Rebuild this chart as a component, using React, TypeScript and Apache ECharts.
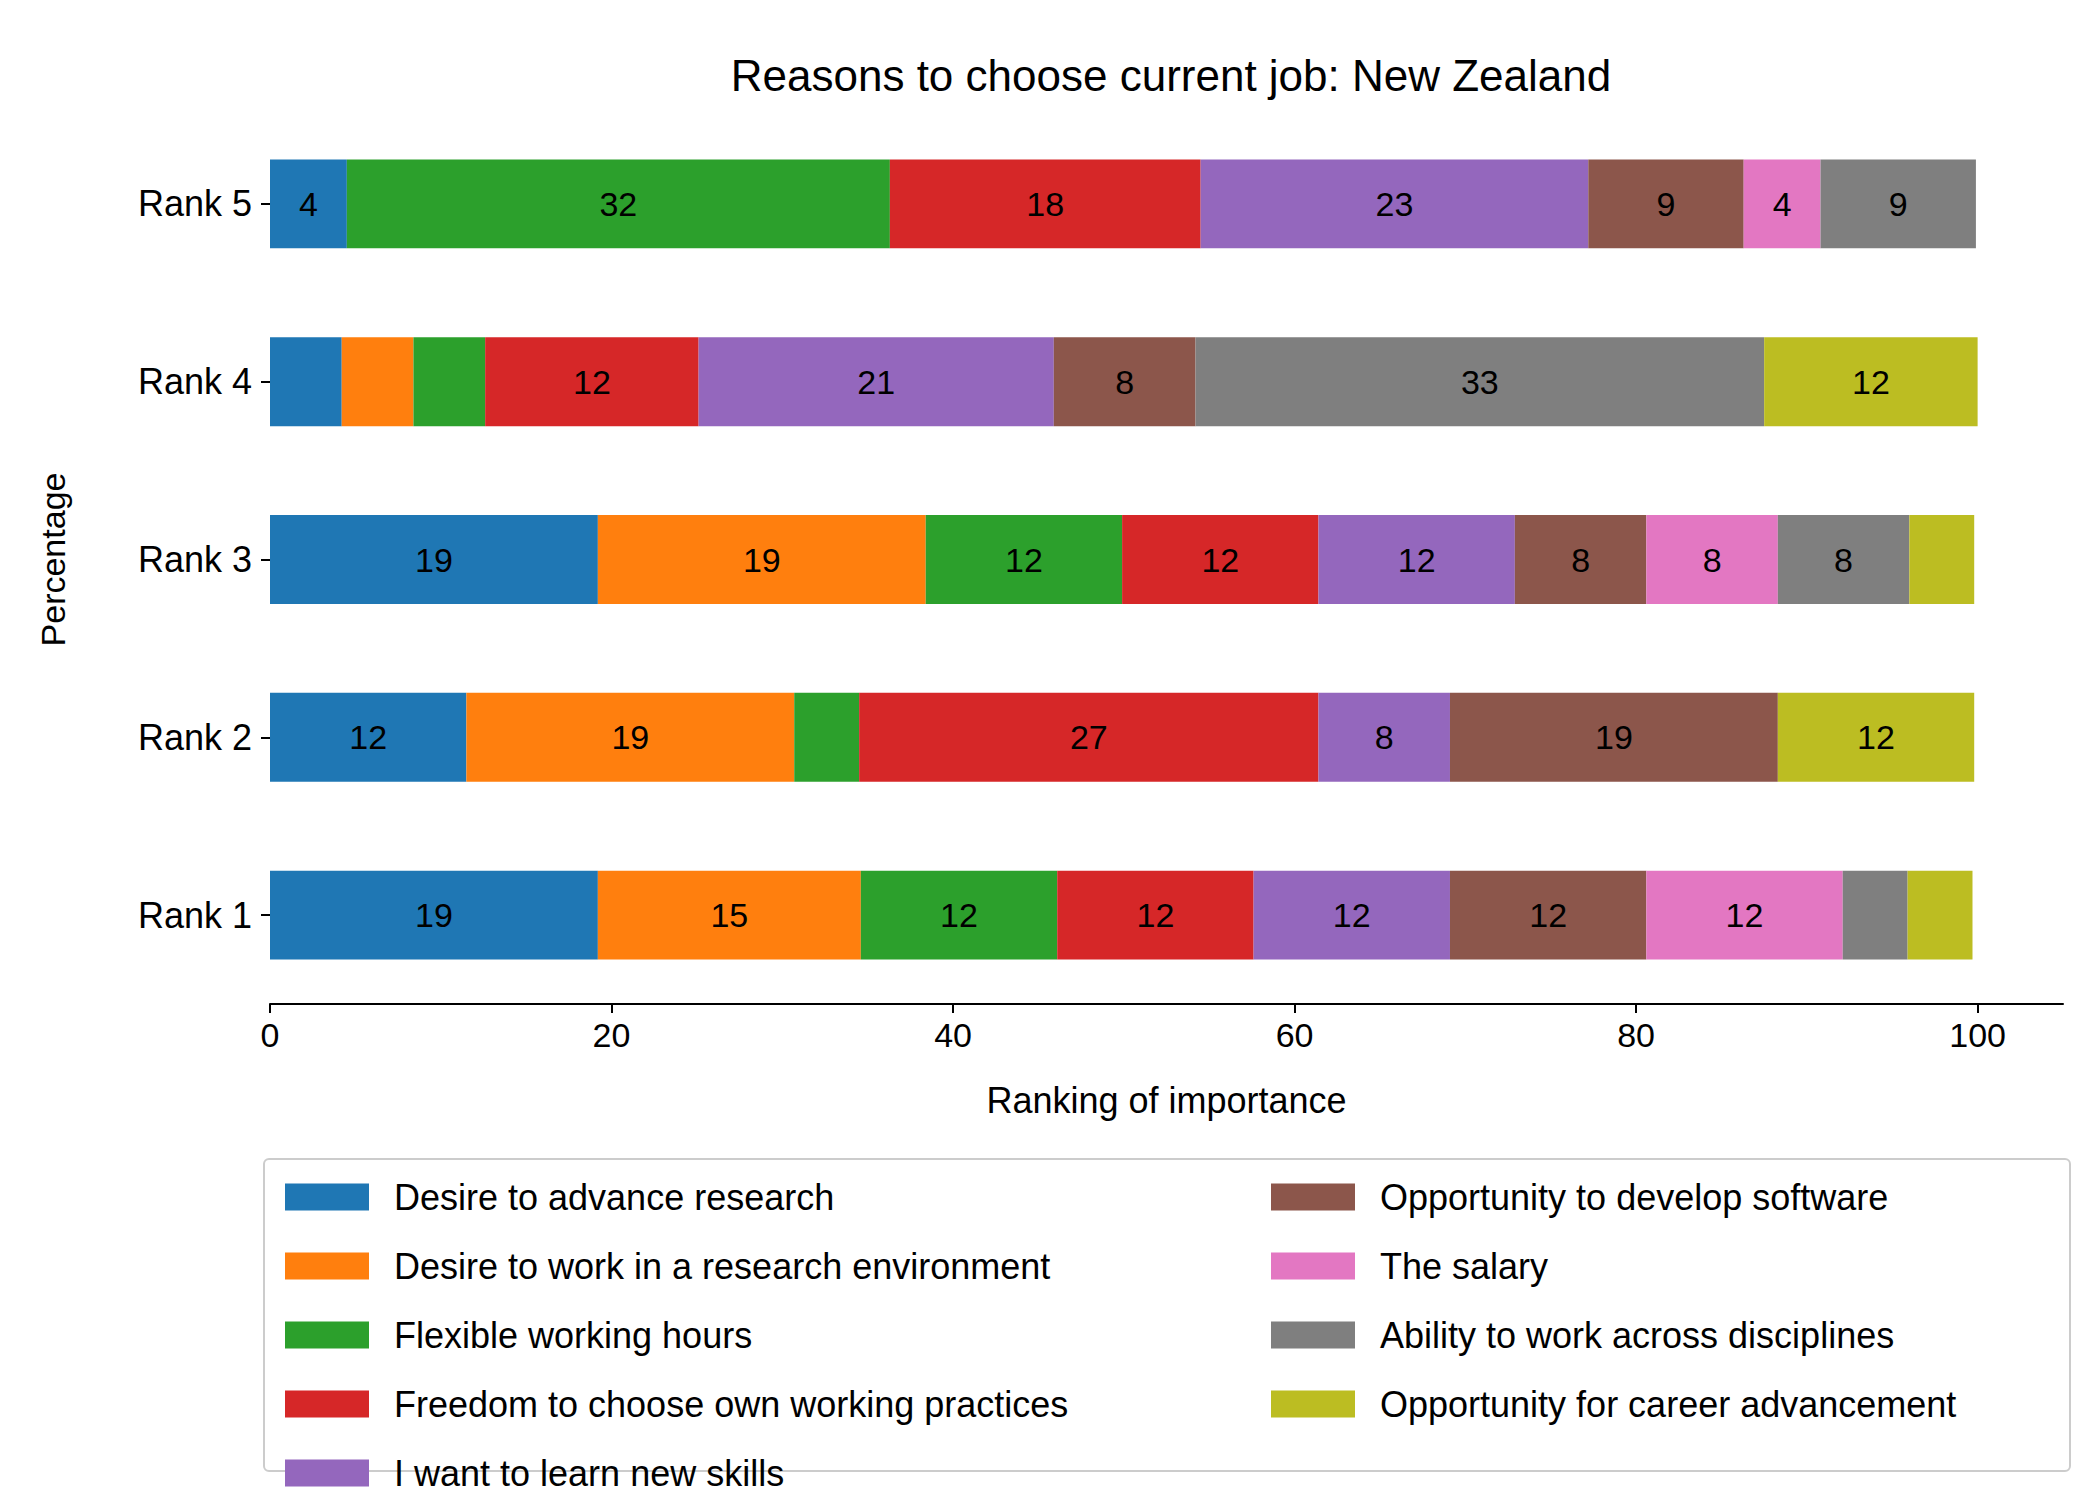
import { useEffect, useRef } from "react";
import * as echarts from "echarts";

const ranks = ["Rank 1", "Rank 2", "Rank 3", "Rank 4", "Rank 5"];
const reasons = [
  "Desire to advance research",
  "Desire to work in a research environment",
  "Flexible working hours",
  "Freedom to choose own working practices",
  "I want to learn new skills",
  "Opportunity to develop software",
  "The salary",
  "Ability to work across disciplines",
  "Opportunity for career advancement",
];
const colors = ["#1f77b4", "#ff7f0e", "#2ca02c", "#d62728", "#9467bd", "#8c564b", "#e377c2", "#7f7f7f", "#bcbd22"];

// percentages per reason, ordered Rank 1..Rank 5
const advanceResearch = [19.2, 11.5, 19.2, 4.2, 4.5];
const researchEnv = [15.4, 19.2, 19.2, 4.2, 0];
const flexibleHours = [11.5, 3.8, 11.5, 4.2, 31.8];
const freedom = [11.5, 26.9, 11.5, 12.5, 18.2];
const learnSkills = [11.5, 7.7, 11.5, 20.8, 22.7];
const software = [11.5, 19.2, 7.7, 8.3, 9.1];
const salary = [11.5, 0, 7.7, 0, 4.5];
const disciplines = [3.8, 0, 7.7, 33.3, 9.1];
const career = [3.8, 11.5, 3.8, 12.5, 0];
const values = [advanceResearch, researchEnv, flexibleHours, freedom, learnSkills, software, salary, disciplines, career];

const font = "Liberation Sans";

function bankRound(v: number) {
  const f = Math.floor(v);
  const d = v - f;
  if (Math.abs(d - 0.5) < 1e-9) return f % 2 === 0 ? f : f + 1;
  return Math.round(v);
}

export default function App() {
  const ref = useRef<HTMLDivElement>(null);

  useEffect(() => {
    if (!ref.current) return;
    const chart = echarts.init(ref.current, null, { renderer: "svg" });
    chart.setOption({
      animation: false,
      backgroundColor: "#fff",
      textStyle: { fontFamily: font },
      title: {
        text: "Reasons to choose current job: New Zealand",
        left: 1158,
        textAlign: "center",
        top: 40,
        textStyle: { fontFamily: font, fontSize: 44, fontWeight: "normal", color: "#000" },
      },
      grid: { left: 262, right: 45, top: 107, height: 889 },
      xAxis: {
        type: "value",
        min: 0,
        max: 105,
        interval: 20,
        name: "Ranking of importance",
        nameLocation: "middle",
        nameGap: 78,
        nameTextStyle: { fontFamily: font, fontSize: 36, color: "#000" },
        axisLine: { show: true, lineStyle: { color: "#000", width: 2 } },
        axisTick: { show: true, length: 9, lineStyle: { color: "#000", width: 2 } },
        axisLabel: {
          fontFamily: font,
          fontSize: 34,
          color: "#000",
          margin: 14,
          showMaxLabel: false,
        },
        splitLine: { show: false },
      },
      yAxis: {
        type: "category",
        data: ranks,
        name: "Percentage",
        nameLocation: "middle",
        nameGap: 200,
        nameTextStyle: { fontFamily: font, fontSize: 34, color: "#000" },
        axisLine: { show: false },
        axisTick: { show: true, alignWithLabel: true, length: 9, lineStyle: { color: "#000", width: 2 } },
        axisLabel: { fontFamily: font, fontSize: 36, color: "#000", margin: 18 },
      },
      legend: [
        {
          data: reasons.slice(0, 5),
          orient: "vertical",
          left: 272,
          top: 1166,
          itemWidth: 84,
          itemHeight: 27,
          itemGap: 33,
          icon: "rect",
          textStyle: { fontFamily: font, fontSize: 36, color: "#000", padding: [0, 0, 0, 20] },
        },
        {
          data: reasons.slice(5),
          orient: "vertical",
          left: 1258,
          top: 1166,
          itemWidth: 84,
          itemHeight: 27,
          itemGap: 33,
          icon: "rect",
          textStyle: { fontFamily: font, fontSize: 36, color: "#000", padding: [0, 0, 0, 20] },
        },
      ],
      graphic: [
        {
          type: "rect",
          shape: { x: 256, y: 1151, width: 1806, height: 312, r: 5 },
          style: { fill: "none", stroke: "#cccccc", lineWidth: 2 },
          z: -1,
        },
      ],
      series: reasons.map((name, i) => ({
        name,
        type: "bar",
        stack: "total",
        barWidth: "50%",
        data: values[i],
        itemStyle: { color: colors[i] },
        label: {
          show: true,
          position: "inside",
          fontFamily: font,
          fontSize: 34,
          color: "#000",
          formatter: (p: any) => (p.value < 4.4 ? "" : String(bankRound(p.value))),
        },
      })),
    });
    return () => chart.dispose();
  }, []);

  return <div ref={ref} style={{ width: 2100, height: 1500 }} />;
}
